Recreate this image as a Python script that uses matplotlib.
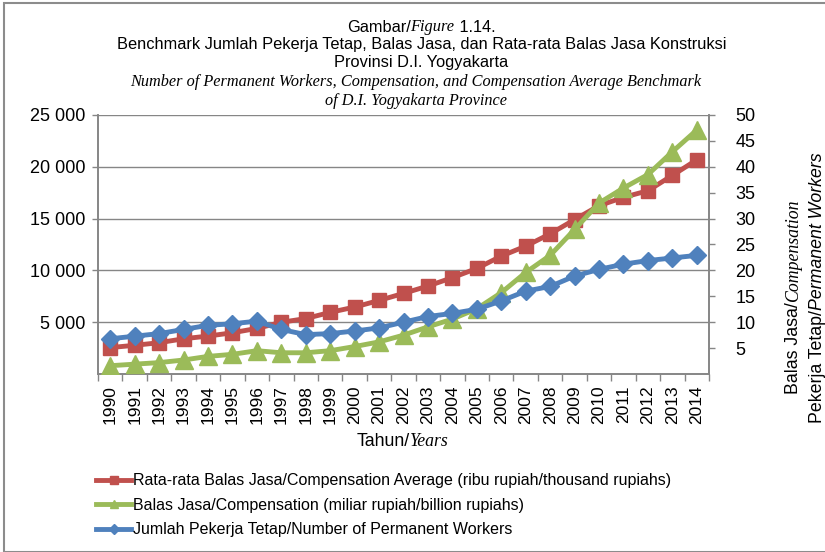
import numpy as np
import matplotlib
matplotlib.use("Agg")
import matplotlib.pyplot as plt
from matplotlib.lines import Line2D
from matplotlib.patches import Rectangle

# data
years = [str(y) for y in range(1990, 2015)]
rata_rata = [2550, 2770, 3020, 3400, 3660, 3980, 4400, 4990, 5350, 5950, 6460, 7100,
             7780, 8490, 9300, 10190, 11380, 12340, 13530, 14900, 16250, 17050, 17690,
             19170, 20670]
balas_jasa = [1.6, 1.9, 2.2, 2.7, 3.4, 3.8, 4.5, 4.1, 4.1, 4.5, 5.3, 6.2, 7.5, 9.1,
              10.6, 12.6, 15.7, 19.6, 22.9, 27.9, 33.0, 35.9, 38.5, 42.9, 47.1]
pekerja = [6.8, 7.3, 7.8, 8.6, 9.4, 9.7, 10.2, 8.6, 7.6, 7.8, 8.3, 8.9, 10.0, 11.1,
           11.7, 12.5, 14.1, 16.0, 16.9, 18.9, 20.2, 21.2, 21.9, 22.4, 22.9]

left_ticks = [5000, 10000, 15000, 20000, 25000]
left_labels = ["5 000", "10 000", "15 000", "20 000", "25 000"]
right_ticks = [5, 10, 15, 20, 25, 30, 35, 40, 45, 50]

RED = "#C0504D"
GREEN = "#9BBB59"
BLUE = "#4F81BD"
GREY = "#868686"
SANS = "Liberation Sans"
SERIF = "Liberation Serif"

plt.rcParams["font.family"] = SANS

W, H = 825, 552
fig = plt.figure(figsize=(W / 100, H / 100), dpi=100)
fig.patches.append(Rectangle((4 / W, 0.5 / H), 1.2, (H - 3.5) / H, transform=fig.transFigure,
                             fill=False, edgecolor="#8c8c8c", lw=1.5))

ax = fig.add_axes([98 / W, 1 - 374 / H, (709 - 98) / W, (374 - 115) / H])
ax2 = ax.twinx()

x = np.arange(len(years))
ax.plot(x, rata_rata, color=RED, lw=3.5, marker="s", ms=10.5, zorder=3)
ax2.plot(x, balas_jasa, color=GREEN, lw=3.5, marker="^", ms=13, zorder=3)
ax2.plot(x, pekerja, color=BLUE, lw=3.5, marker="D", ms=9, zorder=3)

ax.set_xlim(-0.5, len(years) - 0.5)
ax.set_ylim(0, 25000)
ax2.set_ylim(0, 50)

ax.set_yticks(left_ticks)
ax.set_yticklabels(left_labels, fontsize=13)
ax2.set_yticks(right_ticks)
ax2.set_yticklabels([str(v) for v in right_ticks], fontsize=13)
ax.yaxis.grid(True, color=GREY, lw=1)
ax.set_axisbelow(True)

ax.set_xticks(x)
ax.set_xticklabels(years, rotation=90, fontsize=12.5)
ax.tick_params(axis="x", length=0, pad=8)
ax.set_xticks(np.arange(-0.5, len(years), 1), minor=True)
ax.tick_params(axis="x", which="minor", length=5, color=GREY, width=1)
ax.tick_params(axis="y", length=4, color=GREY, width=1, pad=5)
ax2.tick_params(axis="y", length=4, color=GREY, width=1, pad=15)

for a in (ax, ax2):
    a.spines["top"].set_visible(False)
    for s in ("left", "right", "bottom"):
        a.spines[s].set_color(GREY)
        a.spines[s].set_linewidth(1.2)

renderer = fig.canvas.get_renderer()


def mixed(cx, cy, parts, size, rotation=0):
    # parts: list of (text, family, style); centred at pixel (cx, cy) from top-left
    texts = []
    for s, fam, sty in parts:
        t = fig.text(0, 0, s, family=fam, style=sty, fontsize=size, rotation=rotation,
                     ha="left", va="center", rotation_mode="anchor")
        texts.append(t)
    widths = []
    for t in texts:
        t.set_rotation(0)
        widths.append(t.get_window_extent(renderer).width)
        t.set_rotation(rotation)
    total = sum(widths)
    pos = -total / 2
    for t, w in zip(texts, widths):
        if rotation == 0:
            t.set_position(((cx + pos) / W, 1 - cy / H))
        else:
            t.set_position((cx / W, 1 - (cy - pos) / H))
        pos += w


mixed(421, 27, [("Gambar/", SANS, "normal"), ("Figure", SERIF, "italic"), (" 1.14.", SANS, "normal")], 11.8)
fig.text(422 / W, 1 - 45 / H, "Benchmark Jumlah Pekerja Tetap, Balas Jasa, dan Rata-rata Balas Jasa Konstruksi",
         ha="center", va="center", fontsize=11.8)
fig.text(421 / W, 1 - 63 / H, "Provinsi D.I. Yogyakarta", ha="center", va="center", fontsize=11.8)
fig.text(416 / W, 1 - 82 / H,
         "Number of Permanent Workers, Compensation, and Compensation Average Benchmark",
         ha="center", va="center", fontsize=11.7, family=SERIF, style="italic")
fig.text(416 / W, 1 - 101 / H, "of D.I. Yogyakarta Province",
         ha="center", va="center", fontsize=11.7, family=SERIF, style="italic")

mixed(403, 441, [("Tahun/", SANS, "normal"), ("Years", SERIF, "italic")], 12.8)
mixed(794, 297, [("Balas Jasa/", SANS, "normal"), ("Compensation", SERIF, "italic")], 12.8, rotation=90)
mixed(817, 288, [("Pekerja Tetap/", SANS, "normal"), ("Permanent Workers", SANS, "italic")], 12.8, rotation=90)

handles = [
    Line2D([], [], color=RED, lw=3.5, marker="s", ms=6),
    Line2D([], [], color=GREEN, lw=3.5, marker="^", ms=6),
    Line2D([], [], color=BLUE, lw=3.5, marker="D", ms=5),
]
labels = [
    "Rata-rata Balas Jasa/Compensation Average (ribu rupiah/thousand rupiahs)",
    "Balas Jasa/Compensation (miliar rupiah/billion rupiahs)",
    "Jumlah Pekerja Tetap/Number of Permanent Workers",
]
fig.legend(handles, labels, loc="upper left", bbox_to_anchor=(85 / W, 1 - 462 / H),
           frameon=False, fontsize=11.5, handlelength=2.2, handletextpad=0.1,
           labelspacing=0.6, borderpad=0.2)

fig.savefig("out.png", dpi=100)
